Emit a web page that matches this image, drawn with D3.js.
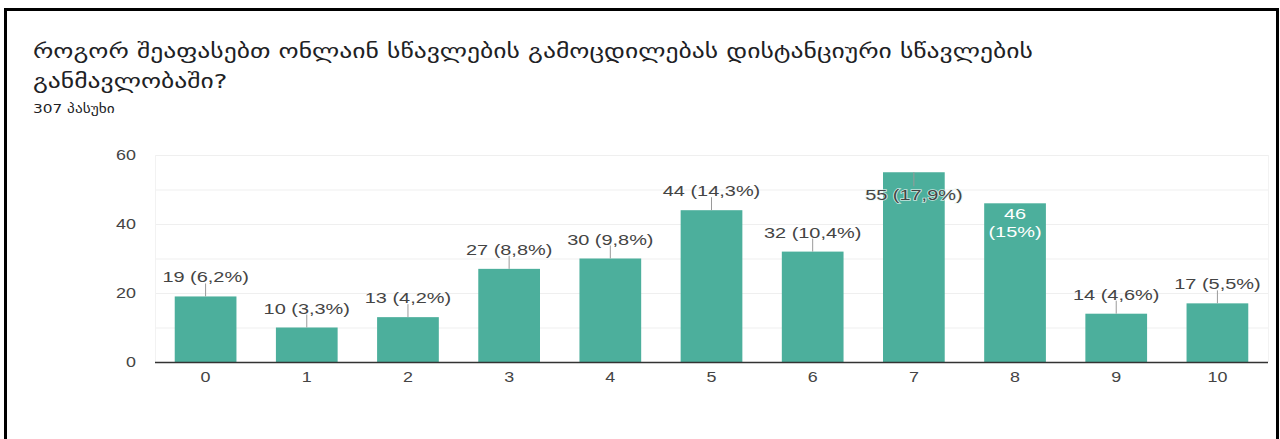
<!DOCTYPE html>
<html>
<head>
<meta charset="utf-8">
<script src="https://cdn.jsdelivr.net/npm/d3@7"></script>
<style>
  html, body { margin: 0; padding: 0; background: #fff; }
  svg { display: block; }
</style>
</head>
<body>
<svg id="chart" width="1280" height="439"></svg>
<script>
// ---- data ----
const categories = ["0", "1", "2", "3", "4", "5", "6", "7", "8", "9", "10"];
const counts = [19, 10, 13, 27, 30, 44, 32, 55, 46, 14, 17];
const percentLabels = ["6,2%", "3,3%", "4,2%", "8,8%", "9,8%", "14,3%", "10,4%", "17,9%", "15%", "4,6%", "5,5%"];
const yTickValues = [0, 20, 40, 60];
const gridValues = [10, 20, 30, 40, 50, 60];
const titleLines = ["როგორ შეაფასებთ ონლაინ სწავლების გამოცდილებას დისტანციური სწავლების", "განმავლობაში?"];
const subtitle = "307 პასუხი";

// ---- layout / style ----
const W = 1280, H = 439;
const plot = { left: 155, right: 1268, top: 155, bottom: 362 };
const barColor = "#4caf9c";
const textColor = "#444";
const sx = 1.28; // horizontal stretch of the reference text
const insideDark = new Set(["7"]);
const insideWhite = new Set(["8"]);

const svg = d3.select("#chart");

// frame
svg.append("path")
  .attr("d", `M5.5,${H} V9.5 H1277.5 V${H}`)
  .attr("fill", "none").attr("stroke", "#000").attr("stroke-width", 3);

// title
const titleFont = "'DejaVu Sans', sans-serif";
titleLines.forEach((t, i) => {
  svg.append("text")
    .attr("transform", `translate(33, ${58 + i * 30}) scale(${sx},1)`)
    .attr("font-family", titleFont).attr("font-size", 20)
    .attr("fill", "#202124").text(t);
});
svg.append("text")
  .attr("transform", `translate(33, 113) scale(1.18,1)`)
  .attr("font-family", titleFont).attr("font-size", 13)
  .attr("fill", "#202124").text(subtitle);

// scales
const x = d3.scaleBand().domain(categories).range([plot.left, plot.right])
  .paddingInner(0.39).paddingOuter(0.195);
const y = d3.scaleLinear().domain([0, 60]).range([plot.bottom, plot.top]);

// grid
svg.append("g").selectAll("line").data(gridValues).join("line")
  .attr("x1", plot.left).attr("x2", plot.right)
  .attr("y1", d => y(d) + 0.5).attr("y2", d => y(d) + 0.5)
  .attr("stroke", "#efefef").attr("stroke-width", 1);
[plot.left, plot.right].forEach(px => {
  svg.append("line").attr("x1", px + 0.5).attr("x2", px + 0.5)
    .attr("y1", plot.top).attr("y2", plot.bottom)
    .attr("stroke", "#f2f2f2").attr("stroke-width", 1);
});

// y axis
const gy = svg.append("g").attr("transform", `translate(${plot.left},0)`)
  .call(d3.axisLeft(y).tickValues(yTickValues).tickSize(0).tickPadding(0));
gy.select(".domain").remove();
gy.selectAll("text")
  .attr("x", -19 / sx)
  .attr("transform", `scale(${sx},1)`)
  .attr("font-family", "'Liberation Sans', Arial, sans-serif")
  .attr("font-size", 14).attr("fill", textColor);

// bars
svg.append("g").selectAll("rect").data(categories).join("rect")
  .attr("x", d => x(d))
  .attr("y", (d, i) => y(counts[i]))
  .attr("width", x.bandwidth())
  .attr("height", (d, i) => y(0) - y(counts[i]))
  .attr("fill", barColor);

// x axis
const gx = svg.append("g").attr("transform", `translate(0,${plot.bottom})`)
  .call(d3.axisBottom(x).tickSize(0).tickPadding(10));
gx.select(".domain").remove();
gx.selectAll("text")
  .attr("transform", `scale(${sx},1)`)
  .attr("font-family", "'Liberation Sans', Arial, sans-serif")
  .attr("font-size", 14).attr("fill", textColor);

// baseline
svg.append("line")
  .attr("x1", plot.left).attr("x2", plot.right)
  .attr("y1", y(0) + 0.5).attr("y2", y(0) + 0.5)
  .attr("stroke", "#333").attr("stroke-width", 1.5);

// value labels
const labelFont = "'Liberation Sans', Arial, sans-serif";
const lsx = 1.33;
const lg = svg.append("g");
categories.forEach((c, i) => {
  const cx = x(c) + x.bandwidth() / 2;
  const top = y(counts[i]);
  const label = `${counts[i]} (${percentLabels[i]})`;
  if (insideWhite.has(c)) {
    [String(counts[i]), `(${percentLabels[i]})`].forEach((t, k) => {
      lg.append("text")
        .attr("transform", `translate(${cx},${top + 16 + k * 17.5}) scale(${lsx},1)`)
        .attr("text-anchor", "middle")
        .attr("font-family", labelFont).attr("font-size", 15)
        .attr("fill", "#fff").text(t);
    });
  } else if (insideDark.has(c)) {
    lg.append("line")
      .attr("x1", cx).attr("x2", cx).attr("y1", top).attr("y2", top + 14)
      .attr("stroke", "#9a9a9a").attr("stroke-width", 1);
    lg.append("text")
      .attr("transform", `translate(${cx},${top + 28}) scale(${lsx},1)`)
      .attr("text-anchor", "middle")
      .attr("font-family", labelFont).attr("font-size", 15)
      .attr("fill", textColor)
      .attr("stroke", "#e8f4f1").attr("stroke-width", 1.5)
      .attr("stroke-opacity", 0.8)
      .attr("paint-order", "stroke")
      .text(label);
  } else {
    lg.append("line")
      .attr("x1", cx).attr("x2", cx).attr("y1", top - 13).attr("y2", top)
      .attr("stroke", "#9a9a9a").attr("stroke-width", 1);
    lg.append("text")
      .attr("transform", `translate(${cx},${top - 14}) scale(${lsx},1)`)
      .attr("text-anchor", "middle")
      .attr("font-family", labelFont).attr("font-size", 15)
      .attr("fill", textColor).text(label);
  }
});
</script>
</body>
</html>
